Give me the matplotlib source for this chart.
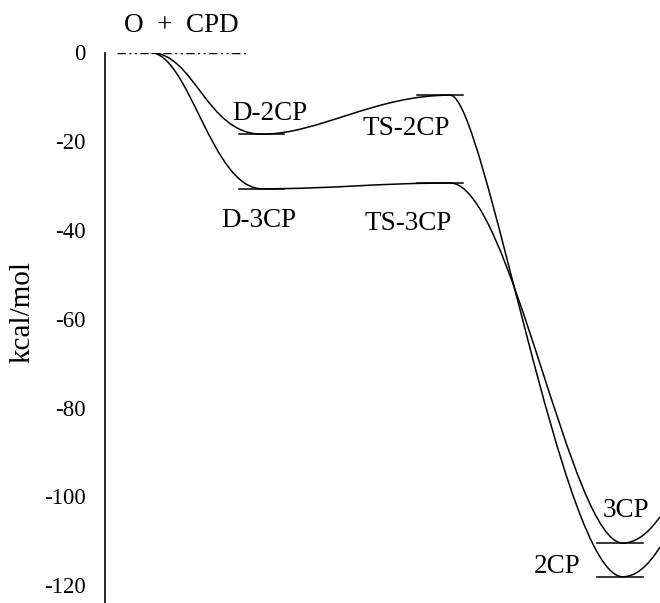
import matplotlib
matplotlib.use("Agg")
import matplotlib.pyplot as plt
from matplotlib.path import Path
from matplotlib.patches import PathPatch

plt.rcParams['font.family'] = ['Liberation Serif', 'DejaVu Serif']

# reaction coordinate of the stationary points (arbitrary units) and energies in kcal/mol
stage_coord = [0.81, 2.83, 6.22, 9.33, 10.0]
energy_2cp = [0.0, -18.4, -9.6, -118.1, -111.4]
energy_3cp = [0.0, -30.7, -29.4, -110.5, -104.6]

# short levels drawn under the minima / saddle points (D, TS, product)
level_center = [2.82, 6.04, 9.28]
labels_2cp = ['D-2CP', 'TS-2CP', '2CP']
labels_3cp = ['D-3CP', 'TS-3CP', '3CP']

yticks = [0, -20, -40, -60, -80, -100, -120]


def energy_path(xs, ys, tension):
    """Smooth profile: cubic Bezier pieces with flat tangents at stationary points."""
    verts = [(xs[0], ys[0])]
    codes = [Path.MOVETO]
    for i in range(len(xs) - 1):
        dx = xs[i + 1] - xs[i]
        a, b = tension[i]
        if b is None:
            verts += [(xs[i] + a * dx, ys[i]), (xs[i + 1], ys[i + 1])]
            codes += [Path.CURVE3] * 2
        else:
            verts += [(xs[i] + a * dx, ys[i]), (xs[i + 1] - b * dx, ys[i + 1]),
                      (xs[i + 1], ys[i + 1])]
            codes += [Path.CURVE4] * 3
    return Path(verts, codes)


fig = plt.figure(figsize=(6.6, 6.03), dpi=100)
ax = fig.add_axes([105 / 660, 0, 1 - 105 / 660, 1 - 52.5 / 603])

p2 = energy_path(stage_coord, energy_2cp, [(0.4, 0.5), (0.3, 0.4), (0.2, 0.35), (0.5, None)])
p3 = energy_path(stage_coord, energy_3cp, [(0.35, 0.45), (0.4, 0.4), (0.35, 0.3), (0.5, None)])
for p in (p2, p3):
    ax.add_patch(PathPatch(p, facecolor='none', edgecolor='black', lw=1.1))

# reactant level
ax.plot([0.22, 2.58], [0, 0], color='black', lw=1.0, dashes=(6, 2.5, 1.5, 2.5, 1.5, 2.5))

half = 0.41
for c, e2, e3 in zip(level_center, energy_2cp[1:4], energy_3cp[1:4]):
    ax.plot([c - half, c + half], [e2, e2], color='black', lw=1.1)
    ax.plot([c - half, c + half], [e3, e3], color='black', lw=1.1)

fs = 19.5
ax.text(1.37, 4.6, 'O  +  CPD', ha='center', va='baseline', fontsize=fs, clip_on=False)
ax.text(2.97, -15.2, labels_2cp[0], ha='center', va='baseline', fontsize=fs)
ax.text(2.78, -39.3, labels_3cp[0], ha='center', va='baseline', fontsize=fs)
ax.text(5.43, -18.6, labels_2cp[1], ha='center', va='baseline', fontsize=fs)
ax.text(5.46, -40.0, labels_3cp[1], ha='center', va='baseline', fontsize=fs)
ax.text(9.39, -104.6, labels_3cp[2], ha='center', va='baseline', fontsize=fs)
ax.text(8.15, -117.2, labels_2cp[2], ha='center', va='baseline', fontsize=fs)

ax.set_xlim(0, 10)
ax.set_ylim(-124, 0)
ax.set_yticks(yticks)
ax.set_yticklabels([str(v) for v in yticks])
ax.set_xticks([])
ax.tick_params(axis='y', length=0, pad=14, labelsize=16.5)
for s in ('top', 'right', 'bottom'):
    ax.spines[s].set_visible(False)
ax.spines['left'].set_linewidth(1.2)

fig.text(22 / 660, 1 - 312 / 603, 'kcal/mol', rotation=90, ha='center', va='center', fontsize=21)

fig.savefig('out.png', dpi=100)
